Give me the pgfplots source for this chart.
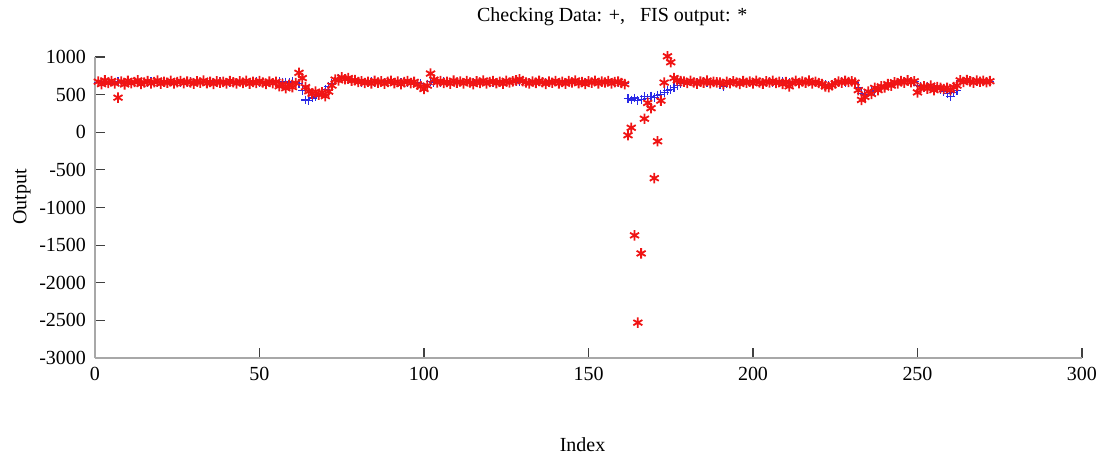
\documentclass[border=0pt]{standalone}
\usepackage{pgfplots}
\usepackage{pgfplotstable}
\pgfplotsset{compat=1.18}
\usepackage{fontspec}
\setmainfont{Liberation Serif}
\definecolor{chkblue}{HTML}{2A2AE6}
\definecolor{fisred}{HTML}{F01414}
\definecolor{axgray}{HTML}{A8A8A8}
\pgfplotstableread{
x b r
1 665 672
2 658 640
3 672 690
4 660 655
5 668 681
6 655 648
7 671 460
8 662 675
9 650 636
10 667 684
11 660 652
12 674 668
13 663 690
14 657 641
15 668 662
16 661 679
17 670 650
18 659 667
19 666 688
20 662 645
21 669 671
22 655 658
23 672 683
24 664 649
25 676 666
26 660 680
27 667 653
28 658 674
29 671 662
30 663 645
31 668 678
32 657 660
33 670 686
34 661 651
35 674 669
36 665 644
37 660 677
38 671 659
39 656 670
40 667 648
41 662 681
42 673 664
43 659 650
44 668 676
45 661 657
46 675 683
47 664 646
48 658 669
49 670 655
50 663 680
51 669 661
52 656 642
53 672 674
54 660 652
55 667 671
56 674 612
57 663 640
58 669 585
59 658 630
60 672 600
61 660 655
62 650 790
63 560 720
64 430 600
65 420 545
66 455 510
67 480 540
68 505 500
69 540 530
70 570 480
71 610 540
72 650 620
73 690 700
74 715 690
75 720 730
76 710 705
77 700 720
78 690 685
79 680 692
80 672 668
81 665 678
82 669 655
83 660 671
84 672 648
85 663 682
86 657 660
87 670 676
88 661 645
89 668 669
90 674 684
91 659 652
92 666 673
93 662 640
94 671 666
95 658 679
96 667 654
97 663 670
98 655 632
99 648 610
100 590 575
101 640 620
102 670 780
103 660 700
104 668 662
105 661 680
106 673 655
107 660 670
108 667 646
109 672 686
110 658 660
111 669 674
112 662 650
113 675 681
114 664 662
115 659 640
116 670 677
117 663 656
118 668 688
119 657 649
120 671 668
121 660 680
122 666 652
123 673 671
124 661 645
125 669 684
126 658 661
127 672 676
128 670 690
129 668 705
130 672 680
131 663 662
132 658 648
133 670 675
134 661 656
135 667 683
136 674 664
137 660 644
138 669 672
139 662 658
140 671 681
141 657 650
142 668 670
143 664 646
144 673 679
145 659 662
146 670 688
147 662 652
148 667 668
149 660 641
150 674 677
151 663 659
152 669 684
153 658 650
154 671 672
155 664 661
156 668 680
157 660 648
158 672 667
159 665 674
160 658 655
161 650 640
162 450 -40
163 430 60
164 455 -1370
165 420 -2530
166 440 -1610
167 470 180
168 450 390
169 480 320
170 460 -610
171 490 -120
172 500 420
173 530 660
174 550 1010
175 570 930
176 590 720
177 620 690
178 650 680
179 665 672
180 660 655
181 671 684
182 663 662
183 668 646
184 659 675
185 673 660
186 664 687
187 669 651
188 657 670
189 670 663
190 640 660
191 610 640
192 645 670
193 662 652
194 670 678
195 659 661
196 667 643
197 673 680
198 661 658
199 668 672
200 657 650
201 671 685
202 664 662
203 669 647
204 660 676
205 674 661
206 663 682
207 668 655
208 659 670
209 672 641
210 665 668
211 660 610
212 669 660
213 673 683
214 662 652
215 668 674
216 658 660
217 671 686
218 664 650
219 667 671
220 660 655
221 650 640
222 630 610
223 620 600
224 640 625
225 660 650
226 668 672
227 673 660
228 662 684
229 670 668
230 667 676
231 665 660
232 600 560
233 520 430
234 500 470
235 530 540
236 545 510
237 560 590
238 580 560
239 600 610
240 610 595
241 620 640
242 640 620
243 650 665
244 660 650
245 670 680
246 675 660
247 680 690
248 672 665
249 670 678
250 620 530
251 610 590
252 600 610
253 615 580
254 590 620
255 580 560
256 595 600
257 570 590
258 545 575
259 520 590
260 480 560
261 530 600
262 560 620
263 680 690
264 674 668
265 682 695
266 670 676
267 678 660
268 672 688
269 680 671
270 669 682
271 676 664
272 673 679
}\data
\begin{document}
\begin{tikzpicture}
\useasboundingbox (-47.5pt,-49.5pt) rectangle (504.5pt,179pt);
\begin{axis}[
  at={(0,0)}, anchor=south west,
  scale only axis, width=493.5pt, height=150.5pt,
  xmin=0, xmax=300, ymin=-3000, ymax=1000,
  xtick={0,50,...,300}, ytick={-3000,-2500,...,1000},
  axis x line*=bottom, axis y line*=left,
  axis line style={axgray, line width=1pt},
  tick align=inside, major tick length=5pt,
  tick style={black!75, line width=0.6pt},
  /pgf/number format/assume math mode=true,
  /pgf/number format/1000 sep={},
  ticklabel style={font=\fontsize{10}{12}\selectfont},
  xticklabel style={yshift=-1pt},
  yticklabel style={xshift=-1pt},
  title={Checking Data: +,\ \ \ FIS output: *},
  title style={at={(axis description cs:0.524,1)}, yshift=14pt, anchor=center, font=\fontsize{10}{12}\selectfont},
  xlabel={Index},
  xlabel style={at={(axis description cs:0.494,0)}, yshift=-43.5pt, anchor=center, font=\fontsize{10}{12}\selectfont},
  ylabel={Output},
  ylabel style={at={(axis description cs:-0.074,0.535)}, anchor=center, font=\fontsize{10}{12}\selectfont},
  clip=false,
]
\addplot[only marks, mark=+, mark size=2.2pt, chkblue, line width=0.6pt] table[x=x, y=b] {\data};
\addplot[only marks, mark=asterisk, mark size=2.6pt, fisred, line width=0.9pt] table[x=x, y=r] {\data};
\end{axis}
\end{tikzpicture}
\end{document}
